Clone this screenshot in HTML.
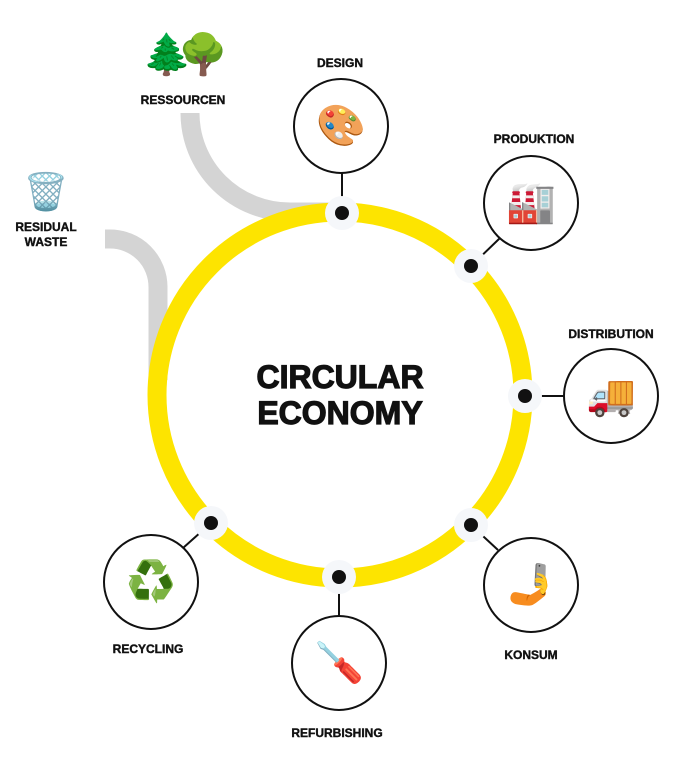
<!DOCTYPE html>
<html><head><meta charset="utf-8"><style>
html,body{margin:0;padding:0;background:#fff;}
body{width:681px;height:769px;position:relative;overflow:hidden;font-family:"Liberation Sans",Arial,sans-serif;}
.l{position:absolute;font-weight:bold;font-size:12px;color:#111;text-align:center;transform:translateX(-50%);white-space:nowrap;line-height:15px;-webkit-text-stroke:0.4px #111;}
.e{position:absolute;font-size:40px;transform:translate(-50%,-50%);line-height:1;font-family:"Noto Color Emoji","DejaVu Sans",sans-serif;}
</style></head><body>
<svg width="681" height="769" style="position:absolute;left:0;top:0">
<path d="M190,113 A100,99 0 0 0 290,212 L335,212" fill="none" stroke="#d4d4d4" stroke-width="19"/>
<path d="M105,239 H110 A48,48 0 0 1 158,287 V380" fill="none" stroke="#d4d4d4" stroke-width="19"/>
<circle cx="340" cy="395" r="183" fill="none" stroke="#fde400" stroke-width="19"/>
<g stroke="#111" stroke-width="2" fill="#fff">
<line x1="342" y1="213" x2="342" y2="172"/>
<line x1="471" y1="266" x2="500" y2="238"/>
<line x1="525" y1="396" x2="566" y2="396"/>
<line x1="471" y1="525" x2="498" y2="550"/>
<line x1="339" y1="577" x2="339" y2="616"/>
<line x1="211" y1="523" x2="183" y2="548"/>
<circle cx="341" cy="126" r="47"/>
<circle cx="531" cy="203" r="47"/>
<circle cx="611" cy="396" r="47"/>
<circle cx="531" cy="585" r="47"/>
<circle cx="339" cy="663" r="47"/>
<circle cx="151" cy="582" r="47"/>
</g>
<g fill="#f5f7fa">
<circle cx="342" cy="213" r="17"/><circle cx="471" cy="266" r="17"/><circle cx="525" cy="396" r="17"/>
<circle cx="471" cy="525" r="17"/><circle cx="339" cy="577" r="17"/><circle cx="211" cy="523" r="17"/>
</g>
<g fill="#111">
<circle cx="342" cy="213" r="7"/><circle cx="471" cy="266" r="7"/><circle cx="525" cy="396" r="7"/>
<circle cx="471" cy="525" r="7"/><circle cx="339" cy="577" r="7"/><circle cx="211" cy="523" r="7"/>
</g>
<text x="340" y="388" text-anchor="middle" font-family="Liberation Sans" font-weight="bold" font-size="32" fill="#111" stroke="#111" stroke-width="1.2">CIRCULAR</text>
<text x="340" y="424" text-anchor="middle" font-family="Liberation Sans" font-weight="bold" font-size="32" fill="#111" stroke="#111" stroke-width="1.2">ECONOMY</text>
</svg>
<div class="e" style="left:178px;top:55px;letter-spacing:-14px">🌲🌳</div>
<div class="e" style="left:46px;top:192px;font-size:36px">🗑</div>
<div class="e" style="left:341px;top:126px">🎨</div>
<div class="e" style="left:531px;top:203px">🏭</div>
<div class="e" style="left:611px;top:396px">🚚</div>
<div class="e" style="left:531px;top:585px">🤳</div>
<div class="e" style="left:339px;top:663px">🪛</div>
<div class="e" style="left:151px;top:582px">♻️</div>
<div class="l" style="left:183px;top:93px">RESSOURCEN</div>
<div class="l" style="left:46px;top:220px">RESIDUAL<br>WASTE</div>
<div class="l" style="left:340px;top:56px">DESIGN</div>
<div class="l" style="left:534px;top:132px">PRODUKTION</div>
<div class="l" style="left:611px;top:327px">DISTRIBUTION</div>
<div class="l" style="left:531px;top:648px">KONSUM</div>
<div class="l" style="left:337px;top:726px">REFURBISHING</div>
<div class="l" style="left:148px;top:642px">RECYCLING</div>
</body></html>
